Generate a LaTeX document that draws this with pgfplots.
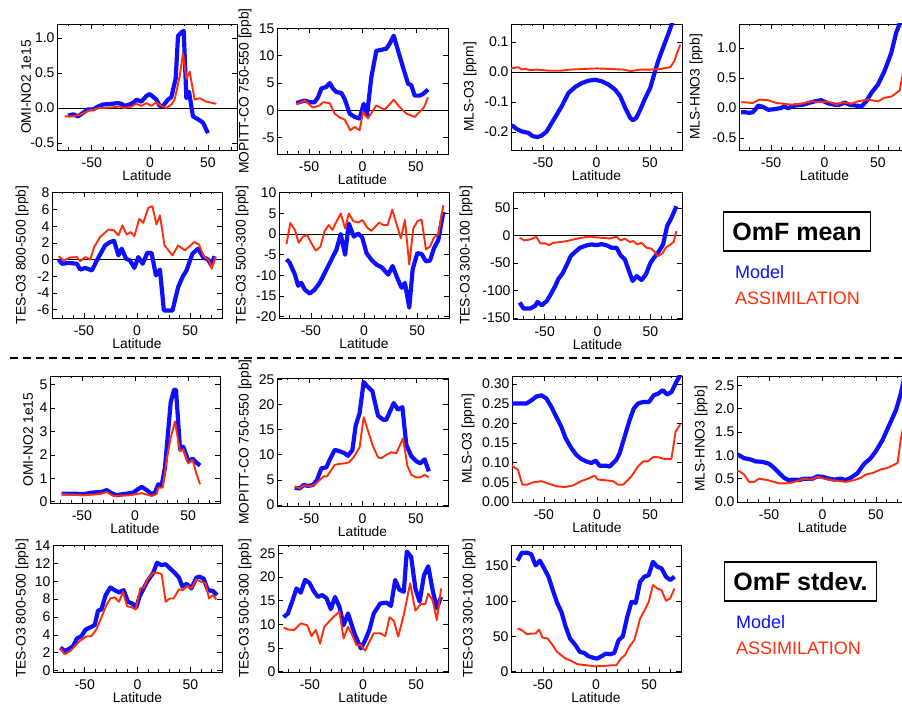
\documentclass[border=0pt]{standalone}
\usepackage{fontspec}
\setmainfont{Liberation Sans}
\usepackage{pgfplots}
\pgfplotsset{compat=1.18}
\definecolor{mblue}{RGB}{15,15,255}
\definecolor{ared}{RGB}{255,45,10}
\newcommand\fs{\fontsize{14}{16}\selectfont}
\newcommand\fl{\fontsize{13.8}{16}\selectfont}
\pgfplotsset{
 panel/.style={scale only axis, xmin=-80, xmax=80, xtick={-50,0,50}, minor xtick={-80,-70,...,80},
   xlabel={Latitude}, tick label style={font=\fs}, label style={font=\fl},
   /pgf/number format/assume math mode=true,
   axis line style={line width=0.8pt}, every tick/.style={black, line width=0.7pt},
   major tick length=5pt, minor tick length=2.5pt,
   xticklabel style={yshift=-4pt}, yticklabel style={xshift=1pt},
   xlabel style={at={([yshift=-25.5pt]axis description cs:0.5,0)}, anchor=center},
   scaled y ticks=false, clip=true},
 ylab/.style={ylabel style={at={([xshift=-#1]axis description cs:0,0.5)}, anchor=center}},
 model/.style={mblue, line width=4.2pt, line join=round},
 assim/.style={ared, line width=1.9pt, line join=round},
 zero/.style={black, line width=0.8pt},
 fmtA/.style={yticklabel style={/pgf/number format/.cd, fixed, fixed zerofill, precision=1}},
 fmtB/.style={yticklabel style={/pgf/number format/.cd, fixed, fixed zerofill, precision=2}},
}
\begin{document}
\begin{tikzpicture}
% ---------- Row 1 (mean) ----------
\begin{axis}[panel, at={(57pt,554pt)}, anchor=south west, width=180pt, height=126pt,
  xmax=75, ymin=-0.6, ymax=1.2, ytick={-0.5,0,0.5,1}, fmtA, ylabel={OMI-NO2 1e15}, ylab=31pt]
\addplot[zero] coordinates {(-80,0) (80,0)};
\addplot[model] coordinates {(-70.5,-0.11) (-66.2,-0.09) (-61.9,-0.12) (-57.6,-0.07) (-53.3,-0.02) (-49,-0.02) (-44.7,0.02) (-40.4,0.05) (-34.6,0.056) (-27.5,0.07) (-24.6,0.06) (-21.7,0.03) (-17.4,0.05) (-13.1,0.09) (-11.7,0.12) (-7.4,0.09) (-3.1,0.17) (-0.2,0.2) (2.7,0.16) (5.6,0.12) (8.4,0.03) (11.3,0.03) (15.6,0.12) (18.5,0.155) (19.9,0.26) (22.2,0.42) (24.2,1.03) (27.1,1.08) (29.1,1.1) (31.4,0.14) (33.7,0.23) (37.1,-0.12) (41.4,-0.16) (45.7,-0.21) (50,-0.36)};
\addplot[assim] coordinates {(-73.4,-0.12) (-66.2,-0.12) (-59,-0.09) (-53.3,-0.04) (-47.6,-0.02) (-43.3,0) (-34.6,0.005) (-26,0.02) (-21.7,0) (-16,0.02) (-11.7,0.06) (-7.4,0.03) (-3.1,0.07) (1.2,0.03) (5.5,0.08) (9.8,0.03) (14.1,0) (18.5,0.05) (21.3,0.12) (25.6,0.45) (28.5,0.78) (31.4,0.42) (34.2,0.52) (38.5,0.12) (42.9,0.14) (48.6,0.09) (57.2,0.06)};
\end{axis}
\begin{axis}[panel, at={(277pt,550pt)}, anchor=south west, width=171pt, height=126pt,
  ymin=-8, ymax=15.1, ytick={-5,0,5,10,15}, ylabel={MOPITT-CO 750-550 [ppb]}, ylab=32pt]
\addplot[zero] coordinates {(-80,0) (80,0)};
\addplot[model] coordinates {(-61.9,1.34) (-54,1.8) (-49.4,1.5) (-44.8,1.5) (-41.6,2.4) (-38.5,4.0) (-33.8,4.3) (-30.7,5.0) (-27.6,4.0) (-24.5,3.35) (-19.8,3.2) (-16.7,2.1) (-12,-0.6) (-7.3,-1.2) (-2.7,-1.5) (1.1,1.2) (4.2,-0.9) (8.3,6.1) (12.9,10.9) (17.6,11.1) (22.3,11.3) (25.4,12.2) (29.2,13.7) (33.2,11) (37.9,7.9) (42.6,4.9) (45.7,4.6) (48.8,2.7) (53.5,2.7) (56.6,3.0) (61.3,3.8)};
\addplot[assim] coordinates {(-61.9,1.1) (-54,1.8) (-46.3,0.5) (-40,0.9) (-37,1.5) (-30.7,1.34) (-26,-0.6) (-21.4,-1.3) (-16.7,-1.7) (-11.4,-3.66) (-7.3,-3.05) (-2.7,-3.66) (0.5,-0.3) (5.1,-1.5) (12.9,0.9) (20.7,0.1) (29.2,1.95) (34.8,0.6) (41,-0.6) (48.8,-1.2) (55,0) (57.6,0.6) (61.3,2.4)};
\end{axis}
\begin{axis}[panel, at={(511pt,554pt)}, anchor=south west, width=171pt, height=126pt,
  ymin=-0.26, ymax=0.16, ytick={-0.2,-0.1,0,0.1}, fmtA, ylabel={MLS-O3 [ppm]}, ylab=41pt]
\addplot[zero] coordinates {(-80,0) (80,0)};
\addplot[model] coordinates {(-80,-0.178) (-77.8,-0.181) (-74.7,-0.19) (-70,-0.198) (-63.75,-0.203) (-59.7,-0.214) (-55.3,-0.217) (-51.25,-0.212) (-46.6,-0.198) (-41.9,-0.17) (-37.2,-0.142) (-32.5,-0.114) (-26.25,-0.07) (-20,-0.05) (-13.75,-0.037) (-7.5,-0.029) (-1.25,-0.026) (5,-0.031) (11.25,-0.042) (17.5,-0.059) (22.2,-0.081) (26.9,-0.12) (31.6,-0.153) (34,-0.161) (37.2,-0.153) (40.9,-0.126) (45.6,-0.087) (50.3,-0.053) (53.4,-0.014) (58.1,0.041) (62.8,0.086) (67.5,0.13) (70.6,0.161) (73.75,0.2)};
\addplot[assim] coordinates {(-80,0.012) (-77.8,0.013) (-73.1,0.016) (-70,0.008) (-66.9,0.011) (-62.2,0.006) (-55.9,0.008) (-49.7,0.006) (-43.4,0.004) (-34,0.004) (-24.7,0.008) (-12.2,0.01) (0.3,0.012) (12.8,0.01) (25.3,0.008) (31.6,0.003) (40.9,0.008) (50.3,0.008) (59.7,0.01) (69,0.016) (72.8,0.036) (75.3,0.063) (78.4,0.091)};
\end{axis}
\begin{axis}[panel, at={(739pt,554pt)}, anchor=south west, width=171pt, height=126pt,
  ymin=-0.7, ymax=1.4, ytick={-0.5,0,0.5,1}, fmtA, ylabel={MLS-HNO3 [ppb]}, ylab=43pt]
\addplot[zero] coordinates {(-80,0) (80,0)};
\addplot[model] coordinates {(-78,-0.07) (-75,-0.07) (-70.3,-0.08) (-67,-0.07) (-65,-0.03) (-62,0.04) (-57.8,0.02) (-52.5,-0.03) (-47,-0.02) (-40.6,0) (-37.5,0.03) (-34.4,-0.005) (-28,0.04) (-20,0.055) (-15.6,0.08) (-9.4,0.11) (-3,0.13) (3,0.08) (9.4,0.055) (14,0.055) (18.8,0.09) (23.4,0.055) (29.7,0.04) (34.4,0.02) (39,0.11) (43.75,0.25) (50,0.39) (56,0.61) (62.5,0.92) (67,1.25) (70.3,1.405) (74,1.7)};
\addplot[assim] coordinates {(-78,0.095) (-75,0.095) (-67,0.083) (-61,0.14) (-53,0.13) (-45,0.083) (-37.5,0.07) (-31,0.055) (-22,0.07) (-12.5,0.11) (-3,0.095) (3,0.11) (11,0.055) (17,0.095) (25,0.07) (31,0.11) (40.6,0.14) (50,0.11) (56,0.17) (62.5,0.19) (70.3,0.29) (73.4,0.58) (78,0.8)};
\end{axis}
% ---------- Row 2 (mean) ----------
\begin{axis}[panel, at={(52pt,386pt)}, anchor=south west, width=170pt, height=126pt,
  ymin=-7, ymax=8.1, ytick={-6,-4,...,8}, ylabel={TES-O3 800-500 [ppb]}, ylab=30pt]
\addplot[zero] coordinates {(-80,0) (80,0)};
\addplot[model] coordinates {(-73.8,0) (-70.6,-0.5) (-64.4,-0.4) (-56.6,-0.5) (-53.4,-1.2) (-48.8,-1.0) (-42.5,-1.3) (-36.3,0.25) (-30,1.7) (-25.3,2.1) (-21.6,2.25) (-17.5,0.5) (-14.4,1.3) (-10.3,0.1) (-6.6,-0.1) (-2.5,-1.0) (1.25,0.3) (5.3,-0.5) (9.7,0.8) (13.75,0.8) (17.8,-1.9) (21.6,-1.2) (25.3,-6.1) (33.4,-6.1) (38.75,-3.3) (42.8,-2.1) (46.6,-1.3) (52.2,0.7) (57.5,1.3) (62.2,0.3) (66.9,0) (70,-0.7) (73,0.4)};
\addplot[assim] coordinates {(-73.8,0.4) (-69,-0.1) (-62.8,0.25) (-56.6,0.3) (-53.4,-0.2) (-48.8,0.3) (-44,0) (-40.3,1.5) (-34.7,2.7) (-26.9,3.6) (-21.6,3.5) (-17.5,2.9) (-13.75,4.1) (-9.7,3.0) (-5.9,3.3) (-2.5,2.8) (2.2,4.9) (5.9,4.4) (10.6,6.2) (14.4,6.4) (18.4,4.2) (21.6,5.3) (25.9,1.7) (33.4,0.5) (38.75,1.7) (45,1.1) (53.75,2.1) (58.4,1.8) (62.8,0.4) (67.8,-0.1) (70.3,-1.1) (74,0.3)};
\end{axis}
\begin{axis}[panel, at={(279pt,386pt)}, anchor=south west, width=170pt, height=126pt,
  ymin=-20.3, ymax=10.2, ytick={-20,-15,...,10}, ylabel={TES-O3 500-300 [ppb]}, ylab=37pt]
\addplot[zero] coordinates {(-80,0) (80,0)};
\addplot[model] coordinates {(-73,-6.1) (-70,-6.9) (-65,-9.8) (-62,-12.5) (-59,-11.8) (-55.8,-13.4) (-51,-14.4) (-46.4,-13.4) (-41.7,-11.8) (-35.4,-8.6) (-30.7,-6.2) (-26,-3.8) (-21.9,0) (-17.8,-5.0) (-14.3,2.55) (-9.6,-0.6) (-5.5,0.16) (-1.7,-0.8) (2.4,-4.6) (7,-6.2) (11.8,-7.4) (16.5,-8.0) (22.8,-9.8) (26.9,-7.7) (31.3,-10.6) (35.4,-13) (38.5,-11.8) (42.6,-17.8) (45.8,-8.5) (50.2,-4.6) (54.2,-4.8) (58.3,-6.6) (62.1,-6.4) (65.9,-3.4) (70,-1.4) (74.7,5.4)};
\addplot[assim] coordinates {(-73,-2.4) (-69.3,2.7) (-65,1.0) (-61.5,-2.1) (-57.4,-0.6) (-53.6,-0.2) (-49.5,-2.2) (-45.4,-4.0) (-41,-3.0) (-37,0.8) (-33.2,2.2) (-29.7,1.0) (-26,3.0) (-21.9,5.0) (-17.8,1.4) (-14.3,5.0) (-10.2,3.2) (-5.5,2.8) (-1.4,3.4) (3,1.6) (7,0.8) (14.3,2.8) (18.1,2.2) (22.2,2.2) (26.6,5.9) (30,3.0) (34.7,-1.0) (38.5,3.4) (42.6,-7.4) (46.4,1.4) (50.5,3.2) (54.2,3.5) (58.3,-3.7) (62.1,-3.0) (65.9,-0.8) (70,0) (74.7,7.0)};
\end{axis}
\begin{axis}[panel, at={(513pt,385pt)}, anchor=south west, width=169pt, height=127pt,
  ymin=-152, ymax=79, ytick={-150,-100,-50,0,50}, ylabel={TES-O3 300-100 [ppb]}, ylab=47pt]
\addplot[zero] coordinates {(-80,0) (80,0)};
\addplot[model] coordinates {(-73.7,-122) (-70,-133) (-63.7,-133) (-59,-128) (-56.8,-121) (-52.7,-127) (-47.9,-119) (-44.8,-109) (-40,-92) (-37,-79) (-33,-69) (-29,-53) (-25.3,-37.6) (-21.2,-30) (-16.5,-22.4) (-10.2,-18) (-5.5,-16.4) (-0.8,-17.6) (3.9,-15.8) (8.6,-18) (13.4,-22.4) (18,-22.4) (21.9,-36.4) (25.9,-43.6) (29,-60.6) (33.2,-83) (37,-74) (41.7,-81) (45.8,-71) (50.2,-49.7) (54.2,-38.8) (58.3,-28.5) (62.1,-16.4) (65.9,17) (70,32) (74.7,53)};
\addplot[assim] coordinates {(-73.7,-4.2) (-69.3,-9) (-63.7,-7.3) (-58,-2.4) (-54.2,-14.5) (-49.5,-14.5) (-45.8,-17.6) (-41.7,-13.3) (-35.4,-12.1) (-29,-10.3) (-22.8,-7.3) (-15,-4.2) (-7,-2.4) (2.4,-4.2) (11.8,-5.5) (18,-2.4) (21.9,-9) (25.9,-6) (30.7,-12) (33.8,-10.3) (37.6,-16.4) (41.7,-13.3) (46.4,-22.4) (51,-24) (54.2,-30.3) (57.4,-37.6) (61.5,-32.7) (64.6,-22.4) (69,-16.4) (72.2,-12) (74.7,7.9)};
\end{axis}
\node[draw, line width=1.3pt, inner xsep=9pt, minimum height=39pt, font=\fontsize{25}{28}\selectfont\bfseries] at (797pt,472.5pt) {OmF mean};
\node[anchor=west, text=mblue, inner sep=0pt, font=\fontsize{18}{20}\selectfont] at (735pt,432pt) {Model};
\node[anchor=west, text=ared, inner sep=0pt, font=\fontsize{18}{20}\selectfont] at (735pt,406pt) {ASSIMILATION};
\draw[line width=1.3pt, dash pattern=on 8pt off 5pt] (10pt,346pt) -- (902pt,346pt);
% ---------- Row 3 (stdev) ----------
\begin{axis}[panel, at={(50pt,201pt)}, anchor=south west, width=170pt, height=127pt,
  ymin=-0.05, ymax=5.37, ytick={0,1,2,3,4,5}, ylabel={OMI-NO2 1e15}, ylab=22pt]
\addplot[model] coordinates {(-69,0.35) (-58,0.35) (-48.6,0.33) (-39,0.4) (-31.4,0.42) (-26.7,0.5) (-22,0.37) (-17.3,0.28) (-11,0.33) (-4.7,0.37) (-1.6,0.4) (1.6,0.5) (6.3,0.64) (11,0.5) (15.7,0.33) (18.8,0.4) (22,0.75) (25,0.68) (28.2,1.46) (33.6,4.24) (36.7,4.78) (38.6,4.78) (42.4,2.23) (45.5,2.35) (50.2,1.74) (54.3,1.84) (58,1.67) (61.2,1.55)};
\addplot[assim] coordinates {(-69,0.33) (-48.6,0.28) (-33,0.33) (-26.7,0.42) (-20.4,0.25) (-4.7,0.28) (6.3,0.37) (15.7,0.25) (20.4,0.33) (22,0.6) (26,0.6) (29.8,1.8) (33.6,2.73) (37.6,3.43) (42.4,2.16) (45.5,2.23) (50.2,1.64) (54.3,1.78) (58,1.17) (61.2,0.75)};
\end{axis}
\begin{axis}[panel, at={(277pt,198pt)}, anchor=south west, width=171pt, height=128pt,
  ymin=-0.2, ymax=25.3, ytick={0,5,...,25}, ylabel={MOPITT-CO 750-550 [ppb]}, ylab=32pt]
\addplot[model] coordinates {(-63.5,3.4) (-58.8,3.3) (-55,4.0) (-51,3.8) (-46.3,4.0) (-42.5,5.0) (-38.5,7.3) (-33.8,7.5) (-30.7,9.0) (-26,11.0) (-21.4,10.7) (-16.7,10.3) (-13.6,9.8) (-9.5,10.9) (-6.4,15.8) (-2.7,18.3) (1.1,24.5) (4.2,23.7) (9.2,22.7) (14.5,17.8) (19.2,17) (22.3,17) (29.2,20.3) (33.2,19) (37.3,19.5) (41,12) (45.7,9.7) (50.4,8.7) (54.1,8.3) (58.2,9.1) (62,6.7)};
\addplot[assim] coordinates {(-63.5,3.7) (-58.8,3.3) (-55,3.9) (-49.4,3.8) (-44.8,4.0) (-40,5.0) (-36.3,5.7) (-33.2,5.7) (-26,8.0) (-21.4,8.2) (-16.7,8.3) (-12.6,8.5) (-8.3,9.5) (-2.7,11.5) (1.1,17.5) (9.8,11.7) (14.5,9.5) (17.6,9.3) (22.3,10.0) (27,10.5) (31.7,10.3) (37.9,13.3) (42,7.8) (45.7,6.0) (50.4,5.5) (54.1,5.5) (58.2,6.0) (62,5.5)};
\end{axis}
\begin{axis}[panel, at={(512pt,202pt)}, anchor=south west, width=170pt, height=126pt,
  ymin=0, ymax=0.32, ytick={0,0.05,0.10,0.15,0.20,0.25,0.30}, fmtB, ylabel={MLS-O3 [ppm]}, ylab=44pt]
\addplot[model] coordinates {(-80,0.25) (-79,0.25) (-72.8,0.25) (-66.5,0.25) (-61.8,0.258) (-57,0.268) (-52.4,0.271) (-47.7,0.263) (-43,0.242) (-38.3,0.216) (-33.6,0.191) (-29.5,0.162) (-24.2,0.137) (-19.5,0.12) (-14.7,0.109) (-10,0.103) (-5.3,0.099) (-1.3,0.105) (2.5,0.092) (8.8,0.092) (11.9,0.09) (18.2,0.107) (21.3,0.124) (26,0.166) (30.7,0.208) (34.5,0.237) (38.6,0.25) (43.3,0.254) (49,0.254) (53.3,0.271) (57.4,0.275) (62,0.284) (65.9,0.273) (70,0.279) (74.7,0.305) (77.8,0.32) (80,0.33)};
\addplot[assim] coordinates {(-80,0.092) (-79,0.09) (-74.4,0.082) (-70.3,0.044) (-65.9,0.044) (-60,0.05) (-52.4,0.053) (-46,0.047) (-38.3,0.04) (-30.4,0.038) (-22.6,0.042) (-14.7,0.053) (-6.9,0.061) (-2.2,0.067) (0.9,0.057) (8.8,0.055) (15,0.053) (19.8,0.044) (24.5,0.044) (32.3,0.065) (38.6,0.09) (43.3,0.103) (48,0.103) (52.7,0.114) (57.4,0.114) (63.7,0.109) (70,0.109) (74,0.179) (78.4,0.197)};
\end{axis}
\begin{axis}[panel, at={(737pt,202pt)}, anchor=south west, width=171pt, height=126pt,
  ymin=0, ymax=2.7, ytick={0,0.5,...,2.5}, fmtA, ylabel={MLS-HNO3 [ppb]}, ylab=36pt]
\addplot[model] coordinates {(-80,1.02) (-78,1.0) (-73.4,0.94) (-67.2,0.91) (-62.5,0.87) (-56.2,0.86) (-50,0.82) (-45.3,0.73) (-40.6,0.62) (-36,0.52) (-32,0.47) (-26.5,0.48) (-21.9,0.47) (-17.2,0.5) (-9.4,0.5) (-4.7,0.55) (0,0.54) (6.2,0.5) (10.9,0.48) (17.2,0.5) (21.9,0.47) (26.6,0.52) (32.8,0.62) (39,0.82) (44.7,0.93) (50,1.09) (56.2,1.33) (62.5,1.65) (68.75,1.97) (73.4,2.33) (75.3,2.54) (78,2.8) (80,3.0)};
\addplot[assim] coordinates {(-80,0.68) (-78,0.66) (-73.4,0.59) (-68.75,0.43) (-64,0.43) (-59.4,0.5) (-51.6,0.47) (-45.3,0.43) (-40.6,0.4) (-34.4,0.4) (-29.7,0.41) (-23.4,0.45) (-17.2,0.5) (-10.9,0.48) (-4.7,0.54) (1.6,0.5) (7.8,0.47) (15.6,0.45) (21.9,0.43) (29.7,0.47) (35.9,0.52) (40.6,0.59) (46.9,0.62) (54.7,0.7) (61,0.73) (67.2,0.8) (70.3,0.84) (73.4,1.37) (75.3,1.58) (78,1.8)};
\end{axis}
% ---------- Row 4 (stdev) ----------
\begin{axis}[panel, at={(53pt,32pt)}, anchor=south west, width=169pt, height=127pt,
  ymin=-0.15, ymax=14.05, ytick={0,2,...,14}, ylabel={TES-O3 800-500 [ppb]}, ylab=31pt]
\addplot[model] coordinates {(-73,2.58) (-69,2.2) (-64.2,2.47) (-61,2.73) (-57.3,3.6) (-53.2,3.85) (-49,4.6) (-43.7,4.9) (-40.5,5.1) (-37.4,6.7) (-34.2,6.84) (-30.1,8.45) (-25.7,9.3) (-21.6,9.0) (-17.5,8.75) (-13.1,9.0) (-9,7.7) (-4.9,7.5) (-1.1,7.1) (2,8.3) (5.8,9.2) (9.9,10.1) (14.7,10.9) (18.5,12.07) (22.6,11.8) (26.7,11.9) (31,11.4) (35.2,10.95) (39.3,10.4) (42.4,9.4) (46.8,9.7) (51,9.2) (55.7,10.4) (58.8,10.5) (62.6,10.3) (66.7,9.0) (71.4,8.9) (75.2,8.45)};
\addplot[assim] coordinates {(-73,2.47) (-69,1.83) (-63.6,2.2) (-58.5,2.84) (-54.7,3.33) (-51,3.6) (-48.4,3.85) (-43.7,3.85) (-39,4.6) (-34.2,5.94) (-29.5,7.3) (-25.7,8.07) (-21.6,8.2) (-17.5,7.7) (-13.7,8.8) (-9.9,7.2) (-5.8,7.1) (-1.7,6.84) (2.7,9.2) (6.1,9.3) (9.9,10.3) (14.7,10.9) (18.5,10.95) (22.9,10.8) (26.7,7.7) (30.4,8.07) (34.2,8.07) (39.3,9.1) (43.1,9.0) (46.8,9.46) (51,9.2) (55.7,10.2) (60.4,9.94) (64.5,9.76) (67.7,8.07) (71.4,8.45) (74.6,7.96)};
\end{axis}
\begin{axis}[panel, at={(278pt,32pt)}, anchor=south west, width=170pt, height=127pt,
  ymin=-0.1, ymax=26.8, ytick={0,5,...,25}, ylabel={TES-O3 500-300 [ppb]}, ylab=33pt]
\addplot[model] coordinates {(-74.7,11.5) (-70.7,12.3) (-66.7,14.8) (-62.6,17.6) (-58.6,16.7) (-54.5,19.4) (-50.5,18.8) (-46.5,17.1) (-42.4,15.8) (-38.4,16.2) (-34.3,15.5) (-30.3,13.2) (-26.3,15.8) (-22.2,13.7) (-18.2,9.8) (-14.1,12.3) (-8.1,8.1) (-2,4.9) (2,6.6) (6,8.8) (10.1,12.3) (16.2,14.4) (22.2,14.6) (26.3,13.9) (30.3,19.4) (34.3,17.3) (38.4,16.9) (41.2,25.4) (45.3,24.3) (49.3,17.6) (53.3,14.8) (57.4,20.4) (61.4,22.3) (65.5,17.3) (69.5,13.4) (73.5,15.8)};
\addplot[assim] coordinates {(-74.7,9.3) (-70.7,8.9) (-64.6,8.8) (-58.6,10.2) (-52.5,9.8) (-48.5,7.5) (-44.4,8.8) (-40.4,5.9) (-36.4,9.5) (-31.5,10.7) (-27.5,11.6) (-22.2,12.7) (-18.2,7.0) (-14.1,9.5) (-10.1,7.7) (-6.1,5.6) (-2,5.6) (2,4.4) (6,6.3) (10.1,8.1) (16.2,8.1) (21,7.5) (25,11.5) (29.1,10.7) (33.1,7.4) (38.4,12) (44.4,18.7) (49.3,12.9) (54.5,14.3) (58.6,14.3) (61.4,16.5) (65.5,15.1) (69.5,10.9) (73.5,17.6)};
\end{axis}
\begin{axis}[panel, at={(511pt,32pt)}, anchor=south west, width=170pt, height=127pt,
  ymin=-1, ymax=180, ytick={0,50,100,150}, ylabel={TES-O3 300-100 [ppb]}, ylab=42pt]
\addplot[model] coordinates {(-73.9,157.6) (-69.8,169) (-65,169) (-61,167) (-56.9,151) (-52.8,157.6) (-48.8,146.7) (-44.7,134.8) (-40.7,115.7) (-36.6,97.6) (-32.6,84.8) (-28.5,63.3) (-24.5,46.7) (-19.2,37) (-15.2,27.6) (-11.1,26.2) (-7.1,21.4) (-3,19.5) (1,18.1) (5.1,21.4) (9.1,25.2) (13.2,24.3) (17.2,26.2) (21.3,44.3) (25.3,50) (29.4,77.6) (33.4,99) (37.4,97.6) (41.5,127.6) (45.5,134.8) (49.6,137) (53.6,156) (57.7,149) (61.7,146.7) (65.8,134.8) (69.8,130) (73.9,134.8)};
\addplot[assim] coordinates {(-73.9,61) (-69.8,58.6) (-65,52.9) (-61,53.8) (-56.9,53.8) (-53.6,59.5) (-50.4,48) (-45.5,46.7) (-40.7,37) (-36.6,27.6) (-32.6,22.9) (-28.5,18) (-23.3,14.8) (-17.2,10) (-9.1,8.6) (-1,7.1) (7.1,7.6) (15.2,8.6) (19.2,8.6) (23.3,18) (27.3,22.9) (31.4,34.8) (36.2,45.2) (41.5,75.2) (45.5,86.2) (49.6,99) (53.6,122.9) (57.7,118) (61.7,115.7) (65.8,100.5) (69.8,103.8) (73.9,118)};
\end{axis}
\node[draw, line width=1.3pt, inner xsep=9pt, minimum height=39pt, font=\fontsize{25}{28}\selectfont\bfseries] at (800.5pt,122.5pt) {OmF stdev.};
\node[anchor=west, text=mblue, inner sep=0pt, font=\fontsize{18}{20}\selectfont] at (736pt,82pt) {Model};
\node[anchor=west, text=ared, inner sep=0pt, font=\fontsize{18}{20}\selectfont] at (736pt,56pt) {ASSIMILATION};
\pgfresetboundingbox
\path[use as bounding box] (0pt,0pt) rectangle (902pt,704pt);
\end{tikzpicture}
\end{document}
